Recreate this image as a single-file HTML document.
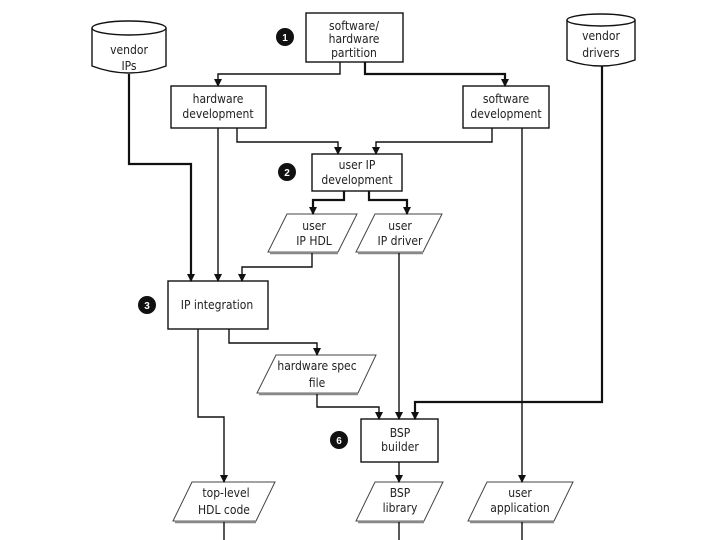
<!DOCTYPE html>
<html><head><meta charset="utf-8"><style>
html,body{margin:0;padding:0;background:#fff}
svg{display:block}
text{font-family:"DejaVu Sans Condensed","Liberation Sans",sans-serif;font-size:12px;fill:#222;text-anchor:middle}
.b{fill:#fff;stroke:#111;stroke-width:1.4}
.l{fill:none;stroke:#111;stroke-width:1.4}
.t{fill:none;stroke:#111;stroke-width:2.2}
.p{fill:#fff;stroke:#444;stroke-width:1}
.s{stroke:#888;stroke-width:2.5}
.n{fill:#111}
.nt{fill:#fff;font-weight:bold;font-size:10px;font-family:"Liberation Sans",sans-serif}
</style></head><body>
<svg width="720" height="540" viewBox="0 0 720 540">
<defs>
<marker id="d" markerWidth="8" markerHeight="8" refX="4" refY="7" markerUnits="userSpaceOnUse"><path d="M0,0 L8,0 L4,8 Z" fill="#111"/></marker></defs>

<path d="M92,28 L92,66 Q129,80 166,66 L166,28" class="b"/>
<ellipse cx="129" cy="28" rx="37" ry="7" class="b"/>
<text x="129" y="54">vendor</text><text x="129" y="70">IPs</text>
<path d="M567,20 L567,60 Q601,72 635,60 L635,20" class="b"/>
<ellipse cx="601" cy="20" rx="34" ry="6" class="b"/>
<text x="601" y="40">vendor</text><text x="601" y="57">drivers</text>

<rect x="306" y="13" width="97" height="49" class="b"/>
<text x="354" y="30">software/</text><text x="354" y="43">hardware</text><text x="354" y="57">partition</text>
<rect x="171" y="86" width="95" height="42" class="b"/>
<text x="218" y="103">hardware</text><text x="218" y="118">development</text>
<rect x="463" y="86" width="86" height="42" class="b"/>
<text x="506" y="103">software</text><text x="506" y="118">development</text>
<rect x="312" y="154" width="90" height="37" class="b"/>
<text x="357" y="169">user IP</text><text x="357" y="184">development</text>
<rect x="168" y="281" width="100" height="48" class="b"/>
<text x="217" y="309">IP integration</text>
<rect x="361" y="419" width="77" height="43" class="b"/>
<text x="400" y="437">BSP</text><text x="400" y="451">builder</text>

<polygon points="287,214 357,214 338,252 268,252" class="p"/><line x1="270" y1="253" x2="338" y2="253" class="s"/>
<text x="314" y="230">user</text><text x="314" y="245">IP HDL</text>
<polygon points="375,214 442,214 423,252 356,252" class="p"/><line x1="358" y1="253" x2="423" y2="253" class="s"/>
<text x="400" y="230">user</text><text x="400" y="245">IP driver</text>
<polygon points="276,355 376,355 358,393 257,393" class="p"/><line x1="259" y1="394" x2="358" y2="394" class="s"/>
<text x="317" y="370">hardware spec</text><text x="317" y="387">file</text>
<polygon points="192,482 275,482 256,521 173,521" class="p"/><line x1="175" y1="522" x2="256" y2="522" class="s"/>
<text x="226" y="497">top-level</text><text x="224" y="514">HDL code</text>
<polygon points="375,482 443,482 424,521 356,521" class="p"/><line x1="358" y1="522" x2="424" y2="522" class="s"/>
<text x="400" y="497">BSP</text><text x="400" y="512">library</text>
<polygon points="487,482 573,482 554,521 468,521" class="p"/><line x1="470" y1="522" x2="554" y2="522" class="s"/>
<text x="520" y="497">user</text><text x="520" y="512">application</text>

<path d="M340,62 V74 H218 V86" class="l" marker-end="url(#d)"/>
<path d="M365,62 V74 H505 V86" class="t" marker-end="url(#d)"/>
<path d="M129,74 V164 H191 V281" class="t" marker-end="url(#d)"/>
<path d="M218,128 V281" class="l" marker-end="url(#d)"/>
<path d="M237,128 V142 H338 V154" class="l" marker-end="url(#d)"/>
<path d="M492,128 V142 H376 V154" class="l" marker-end="url(#d)"/>
<path d="M522,128 V482" class="l" marker-end="url(#d)"/>
<path d="M602,66 V402 H415 V419" class="t" marker-end="url(#d)"/>
<path d="M344,191 V200 H313 V214" class="t" marker-end="url(#d)"/>
<path d="M369,191 V200 H407 V214" class="t" marker-end="url(#d)"/>
<path d="M312,253 V267 H242 V281" class="l" marker-end="url(#d)"/>
<path d="M399,253 V419" class="l" marker-end="url(#d)"/>
<path d="M198,329 V417 H224 V482" class="l" marker-end="url(#d)"/>
<path d="M229,329 V343 H317 V355" class="l" marker-end="url(#d)"/>
<path d="M317,394 V407 H379 V419" class="l" marker-end="url(#d)"/>
<path d="M399,462 V482" class="l" marker-end="url(#d)"/>
<path d="M224,522 V540 M399,522 V540 M522,522 V540" class="l"/>

<circle cx="285" cy="37" r="9" class="n"/><text x="285" y="41" class="nt">1</text>
<circle cx="287" cy="172" r="9" class="n"/><text x="287" y="176" class="nt">2</text>
<circle cx="147" cy="305" r="9" class="n"/><text x="147" y="309" class="nt">3</text>
<circle cx="339" cy="440" r="9" class="n"/><text x="339" y="444" class="nt">6</text>
</svg>
</body></html>
